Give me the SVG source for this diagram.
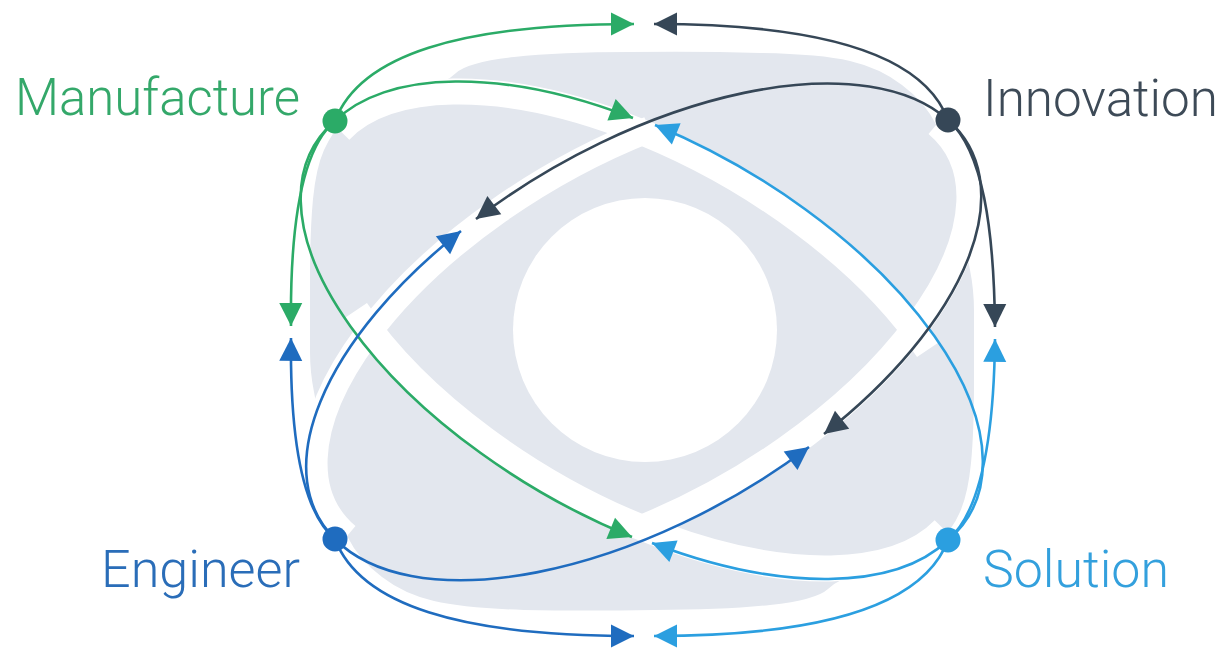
<svg xmlns="http://www.w3.org/2000/svg" width="1230" height="656" viewBox="0 0 1230 656">
<defs>
<style>
.band{fill:none;stroke:#ffffff;stroke-width:26}
.c{fill:none;stroke-width:2.6}
.g{stroke:#2bab67}.d{stroke:#364757}.b{stroke:#1f6cbf}.l{stroke:#2b9fe0}
.lbl{font-family:Roboto,"Liberation Sans",Arial,sans-serif;font-weight:300;font-size:52px}
</style>
<marker id="mg" viewBox="-24 -13 26 26" markerWidth="26" markerHeight="26" refX="0" refY="0" orient="auto" markerUnits="userSpaceOnUse"><path d="M0,0 L-23,-11.5 L-23,11.5 Z" fill="#2bab67"/></marker>
<marker id="md" viewBox="-24 -13 26 26" markerWidth="26" markerHeight="26" refX="0" refY="0" orient="auto" markerUnits="userSpaceOnUse"><path d="M0,0 L-23,-11.5 L-23,11.5 Z" fill="#364757"/></marker>
<marker id="mb" viewBox="-24 -13 26 26" markerWidth="26" markerHeight="26" refX="0" refY="0" orient="auto" markerUnits="userSpaceOnUse"><path d="M0,0 L-23,-11.5 L-23,11.5 Z" fill="#1f6cbf"/></marker>
<marker id="ml" viewBox="-24 -13 26 26" markerWidth="26" markerHeight="26" refX="0" refY="0" orient="auto" markerUnits="userSpaceOnUse"><path d="M0,0 L-23,-11.5 L-23,11.5 Z" fill="#2b9fe0"/></marker>
</defs>
<rect width="1230" height="656" fill="#ffffff"/>
<g id="background">
<path fill="#e3e7ee" d="M310,281 Q310,230 313,199 Q316,168 324,150 Q332,132 345,120 Q358,108 379,100 Q400,92 422,88 Q445,84 456,73 Q468,62 514,57 Q560,52 630,52 Q700,51 760,53 Q820,54 850,61 Q880,68 902,85 Q925,102 937,126 Q950,150 955,175 Q960,200 963,225 Q966,250 970,270 Q974,290 974,311 Q974,332 974,382 Q974,432 971,463 Q968,494 960,512 Q952,530 939,542 Q926,554 905,562 Q884,570 862,574 Q839,578 828,589 Q816,600 770,605 Q724,610 654,610 Q584,611 524,610 Q464,608 434,601 Q404,594 382,577 Q359,560 347,536 Q334,512 329,487 Q324,462 321,437 Q318,412 314,392 Q310,372 310,352 Z"/>
<path class="band" d="M340,130.6 A364,178 30 0 1 927.8,349.7"/>
<path class="band" d="M944,529.4 A364,178 30 0 1 356.2,310.3"/>
<path class="band" d="M347.1,536 A364,178 -30 0 1 649.1,129.4"/>
<path class="band" d="M936.9,124 A364,178 -30 0 1 634.9,530.6"/>
<circle cx="645" cy="330" r="132" fill="#ffffff"/>
</g>
<g id="connectors">
<path class="c g" marker-end="url(#mg)" d="M335,121 A372,186 30 0 1 633,118"/>
<path class="c l" marker-end="url(#ml)" d="M948,540 A372,186 30 0 0 655,125"/>
<path class="c g" marker-end="url(#mg)" d="M335,121 A372,186 30 0 0 632,537"/>
<path class="c l" marker-end="url(#ml)" d="M948,540 A372,186 30 0 1 652,543"/>
<path class="c d" marker-end="url(#md)" d="M948,120 A372,186 -30 0 0 476,219"/>
<path class="c b" marker-end="url(#mb)" d="M335,539 A372,186 -30 0 1 461,231"/>
<path class="c d" marker-end="url(#md)" d="M948,120 A372,186 -30 0 1 824,434"/>
<path class="c b" marker-end="url(#mb)" d="M335,539 A372,186 -30 0 0 809,447"/>
<path class="c g" marker-end="url(#mg)" d="M335,121 C360,55 460,24 634,24"/>
<path class="c d" marker-end="url(#md)" d="M948,120 C924,55 824,24 654,24"/>
<path class="c g" marker-end="url(#mg)" d="M335,121 C300,150 290,230 291,326"/>
<path class="c b" marker-end="url(#mb)" d="M335,539 C300,510 290,430 291,338"/>
<path class="c b" marker-end="url(#mb)" d="M335,539 C360,605 460,636 634,636"/>
<path class="c l" marker-end="url(#ml)" d="M948,540 C924,605 824,636 654,636"/>
<path class="c d" marker-end="url(#md)" d="M948,120 C983,150 994,230 995,327"/>
<path class="c l" marker-end="url(#ml)" d="M948,540 C983,510 994,430 995,339"/>
</g>
<g id="node-manufacture">
<circle cx="335" cy="121" r="12.5" fill="#2bab67"/>
<text class="lbl" x="15" y="115" fill="#34a86a" textLength="285" lengthAdjust="spacingAndGlyphs">Manufacture</text>
</g>
<g id="node-innovation">
<circle cx="948" cy="120" r="12.5" fill="#364757"/>
<text class="lbl" x="983" y="116" fill="#3d4a57" textLength="235" lengthAdjust="spacingAndGlyphs">Innovation</text>
</g>
<g id="node-engineer">
<circle cx="335" cy="539" r="12.5" fill="#1f6cbf"/>
<text class="lbl" x="101" y="587" fill="#2a6db8" textLength="199" lengthAdjust="spacingAndGlyphs">Engineer</text>
</g>
<g id="node-solution">
<circle cx="948" cy="540" r="12.5" fill="#2b9fe0"/>
<text class="lbl" x="983" y="587" fill="#33a0dd" textLength="186" lengthAdjust="spacingAndGlyphs">Solution</text>
</g>
</svg>
